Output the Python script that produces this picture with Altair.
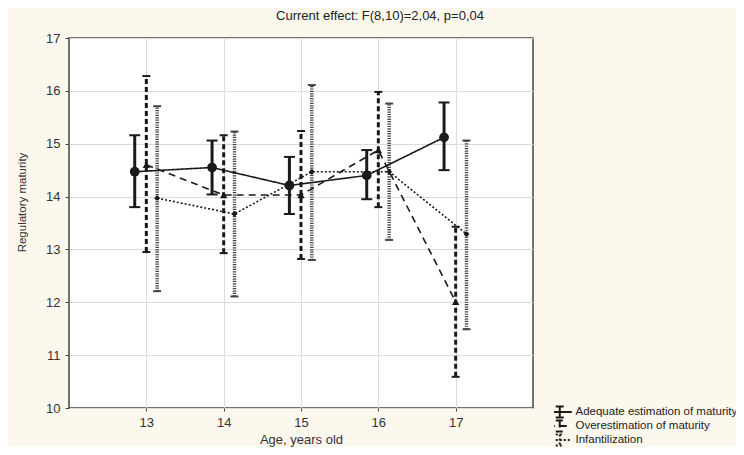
import altair as alt
import pandas as pd

# ---- data ----
ages = [13, 14, 15, 16, 17]
series_names = ["Adequate estimation of maturity", "Overestimation of maturity", "Infantilization"]

adequate_mean = [14.47, 14.55, 14.21, 14.40, 15.12]
adequate_hi = [15.16, 15.06, 14.75, 14.88, 15.78]
adequate_lo = [13.80, 14.04, 13.67, 13.95, 14.50]

over_mean = [14.60, 14.03, 14.03, 14.88, 12.01]
over_hi = [16.28, 15.16, 15.24, 15.98, 13.43]
over_lo = [12.95, 12.93, 12.82, 13.80, 10.59]

inf_mean = [13.97, 13.67, 14.47, 14.47, 13.29]
inf_hi = [15.71, 15.23, 16.11, 15.76, 15.06]
inf_lo = [12.21, 12.11, 12.80, 13.18, 11.49]

x_offsets = [-0.15, 0.0, 0.14]
y_ticks = [10, 11, 12, 13, 14, 15, 16, 17]

means = [adequate_mean, over_mean, inf_mean]
his = [adequate_hi, over_hi, inf_hi]
los = [adequate_lo, over_lo, inf_lo]

rows = []
for s, name in enumerate(series_names):
    for i, a in enumerate(ages):
        rows.append({"series": name, "age": a, "xpos": a + x_offsets[s],
                     "mean": means[s][i], "hi": his[s][i], "lo": los[s][i]})
df = pd.DataFrame(rows)

FONT = "Liberation Sans"
INK = "#1a1a1a"

styles = {
    series_names[0]: dict(bar_dash=[1, 0], bar_width=3, cap=11, shape="circle", size=95, bar_color="#1a1a1a"),
    series_names[1]: dict(bar_dash=[5, 3], bar_width=3, cap=8, shape="triangle-up", size=55, bar_color="#1a1a1a"),
    series_names[2]: dict(bar_dash=[1.2, 1.2], bar_width=3.5, cap=8, shape="diamond", size=35, bar_color="#444444"),
}

x_enc = alt.X("xpos:Q", scale=alt.Scale(domain=[12, 18], nice=False, zero=False),
              axis=alt.Axis(values=ages, title="Age, years old", format="d",
                            titleX=232, titleY=31, titleBaseline="middle", titleFontSize=13,
                            titleFontWeight="normal", titleFont=FONT, titleColor="#333",
                            labelFontSize=13, labelFont=FONT, labelColor="#333",
                            tickSize=3, labelPadding=5, gridColor="#dcdcdc", domain=False,
                            tickColor="#444"))
y_enc_kwargs = dict(scale=alt.Scale(domain=[10, 17], nice=False, zero=False))
y_axis = alt.Axis(values=y_ticks, title="Regulatory maturity", format="d",
                  titleX=-47, titleY=164, titleBaseline="middle", titleAlign="center",
                  titleFontSize=11.5, titleFontWeight="normal", titleFont=FONT, titleColor="#333",
                  labelFontSize=13, labelFont=FONT, labelColor="#333",
                  tickSize=4, labelPadding=5, gridColor="#dcdcdc", domain=False, tickColor="#444")

base = alt.Chart(df)
layers = []

for name in series_names:
    st = styles[name]
    sub = base.transform_filter(alt.datum.series == name)
    bars = sub.mark_rule(strokeWidth=st["bar_width"], strokeDash=st["bar_dash"], color=st["bar_color"]).encode(
        x=x_enc, y=alt.Y("lo:Q", axis=y_axis, **y_enc_kwargs), y2="hi:Q")
    cap_hi = sub.mark_tick(orient="horizontal", size=st["cap"], thickness=2, color=st["bar_color"], opacity=1).encode(
        x="xpos:Q", y="hi:Q")
    cap_lo = sub.mark_tick(orient="horizontal", size=st["cap"], thickness=2, color=st["bar_color"], opacity=1).encode(
        x="xpos:Q", y="lo:Q")
    layers += [bars, cap_hi, cap_lo]

legend_symbol = "M-3,0H3M0,-1.4V1.4M-1,-1.4H1M-1,1.4H1"

lines = base.mark_line(color=INK, strokeWidth=1.6).encode(
    x="xpos:Q", y="mean:Q",
    strokeDash=alt.StrokeDash("series:N",
                              scale=alt.Scale(domain=series_names, range=[[1, 0], [7, 5], [2, 2]]),
                              legend=alt.Legend(title=None, orient="none", legendX=485, legendY=367,
                                                symbolType=legend_symbol, symbolSize=64,
                                                symbolStrokeWidth=2, symbolStrokeColor=INK,
                                                symbolFillColor="transparent", clipHeight=14,
                                                labelFontSize=11.5, labelFont=FONT, labelColor="#222",
                                                rowPadding=0, labelOffset=10, labelLimit=400,
                                                padding=0)),
    detail="series:N", order="age:Q")
layers.append(lines)

for name in series_names:
    st = styles[name]
    pts = base.transform_filter(alt.datum.series == name).mark_point(
        filled=True, color=INK, opacity=1, shape=st["shape"], size=st["size"]).encode(
        x="xpos:Q", y="mean:Q")
    layers.append(pts)

chart = alt.layer(*layers).properties(
    width=464, height=370,
    title=alt.TitleParams("Current effect: F(8,10)=2,04, p=0,04", fontSize=13, font=FONT,
                          fontWeight="normal", color="#222", anchor="middle", dx=79, offset=9),
    autosize=alt.AutoSizeParams(type="none"),
    padding={"left": 61, "top": 30, "right": 203, "bottom": 39},
    background="#fcf8ee",
).configure_view(fill="white", stroke="#444444", strokeWidth=1.5)

chart.save("out.html", embed_options={"renderer": "svg", "actions": False})
